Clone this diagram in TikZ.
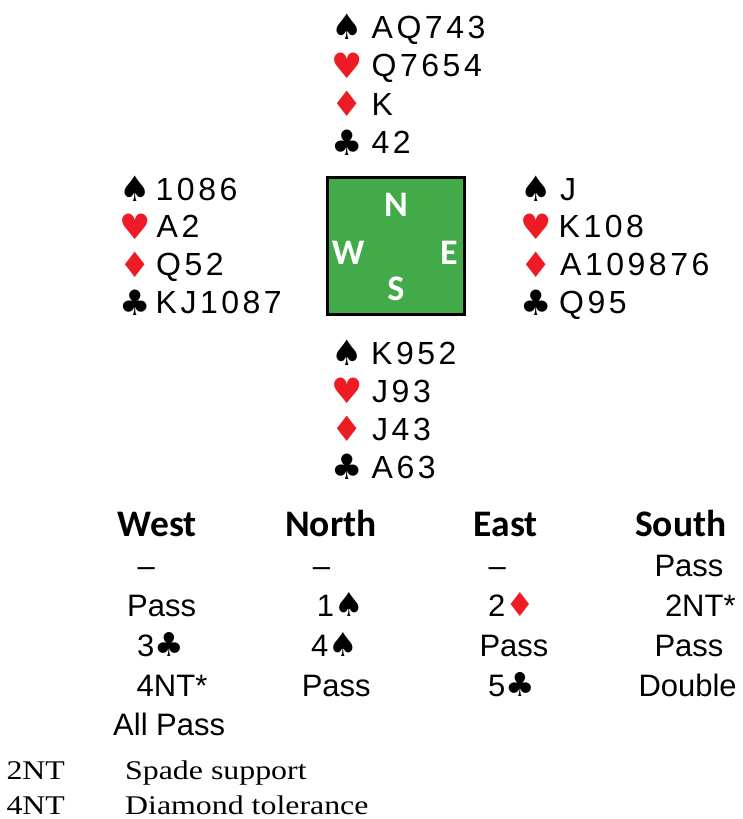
\documentclass[tikz,border=0pt]{standalone}
\usepackage{fontspec}
\setmainfont{Liberation Sans}
\newfontfamily\handfont[LetterSpace=11]{Liberation Sans}
\newfontfamily\bidfont{Liberation Sans}
\newfontfamily\symfont{DejaVu Sans}
\newfontfamily\headfont{Carlito}
\newfontfamily\notefont[FakeStretch=1.18]{Liberation Serif}
\definecolor{boxgreen}{RGB}{67,170,73}
\definecolor{suitred}{RGB}{237,28,36}
\newcommand\BidSpade{{\symfont\fontsize{33}{36}\selectfont ♠}}
\newcommand\BidClub{{\symfont\fontsize{33}{36}\selectfont ♣}}
\newcommand\BidDiam{{\symfont\fontsize{33}{36}\selectfont\color{suitred}♦}}
\tikzset{
  hand/.style={anchor=base west, inner sep=0pt, font=\handfont\fontsize{32}{36}\selectfont},
  suit/.style={anchor=base, inner sep=0pt, font=\symfont\fontsize{35}{40}\selectfont},
  redsuit/.style={suit, text=suitred},
  bid/.style={anchor=base west, inner sep=0pt, font=\bidfont\fontsize{31}{36}\selectfont},
  head/.style={anchor=base west, inner sep=0pt, font=\headfont\bfseries\fontsize{37.5}{40}\selectfont},
  compass/.style={anchor=base, inner sep=0pt, text=white, font=\headfont\bfseries\fontsize{36}{40}\selectfont},
  note/.style={anchor=base west, inner sep=0pt, font=\notefont\fontsize{27}{30}\selectfont},
  board/.style={draw=black, line width=3.3pt, fill=boxgreen, minimum size=136.7pt, inner sep=0pt}
}
\begin{document}
\begin{tikzpicture}[x=1pt,y=-1pt]
\useasboundingbox (0,0) rectangle (743,819);
% board
\node[board] (board) at (396,246) {};
\node[compass] (cN) at (396,216.7) {N};
\node[compass] (cW) at (348.3,264.3) {W};
\node[compass] (cE) at (449,264.3) {E};
\node[compass] (cS) at (396,300) {S};
% North
\node[suit] (nS) at (347.5,39.5) {♠};
\node[redsuit] (nH) at (347.5,78) {♥};
\node[redsuit] (nD) at (347.5,116.5) {♦};
\node[suit] (nC) at (347.5,155) {♣};
\node[hand] (nSt) at (371.5,38.3) {AQ743};
\node[hand] (nHt) at (371.5,76.8) {Q7654};
\node[hand] (nDt) at (371.5,115.3) {K};
\node[hand] (nCt) at (371.5,153.8) {42};
% West
\node[suit] (wS) at (135.5,201.2) {♠};
\node[redsuit] (wH) at (135.5,239) {♥};
\node[redsuit] (wD) at (135.5,277) {♦};
\node[suit] (wC) at (135.5,315) {♣};
\node[hand] (wSt) at (155.5,200) {1086};
\node[hand] (wHt) at (156.5,237.8) {A2};
\node[hand] (wDt) at (156,275.8) {Q52};
\node[hand] (wCt) at (155.5,313.8) {KJ1087};
% East
\node[suit] (eS) at (536.5,201.2) {♠};
\node[redsuit] (eH) at (536.5,239) {♥};
\node[redsuit] (eD) at (536.5,277) {♦};
\node[suit] (eC) at (536.5,315) {♣};
\node[hand] (eSt) at (560,200) {J};
\node[hand] (eHt) at (558.5,237.8) {K108};
\node[hand] (eDt) at (560,275.8) {A109876};
\node[hand] (eCt) at (559,313.8) {Q95};
% South
\node[suit] (sS) at (347.5,365.7) {♠};
\node[redsuit] (sH) at (347.5,403.7) {♥};
\node[redsuit] (sD) at (347.5,441.7) {♦};
\node[suit] (sC) at (347.5,479.2) {♣};
\node[hand] (sSt) at (371,364.5) {K952};
\node[hand] (sHt) at (372,402.5) {J93};
\node[hand] (sDt) at (372,440.5) {J43};
\node[hand] (sCt) at (371.5,478) {A63};
% bidding headers
\node[head] (hW) at (117.5,536) {West};
\node[head] (hN) at (285,536) {North};
\node[head] (hE) at (473.5,536) {East};
\node[head] (hS) at (635,536) {South};
% bids
\node[bid] (b11) at (137.3,576) {–};
\node[bid] (b12) at (312.7,576) {–};
\node[bid] (b13) at (488.3,576) {–};
\node[bid] (b14) at (654.3,576) {Pass};
\node[bid] (b21) at (127,616) {Pass};
\node[bid] (b22) at (316.6,616) {1\BidSpade};
\node[bid] (b23) at (488,616) {2\BidDiam};
\node[bid] (b24) at (664.8,616) {2NT*};
\node[bid] (b31) at (137,656) {3\BidClub};
\node[bid] (b32) at (311,656) {4\BidSpade};
\node[bid] (b33) at (479.3,656) {Pass};
\node[bid] (b34) at (654.3,656) {Pass};
\node[bid] (b41) at (136.5,696) {4NT*};
\node[bid] (b42) at (301.6,696) {Pass};
\node[bid] (b43) at (488,696) {5\BidClub};
\node[bid] (b44) at (638.3,696) {Double};
\node[bid] (b51) at (113,735) {All Pass};
% notes
\node[note] (n1a) at (6.3,779.3) {2NT};
\node[note] (n1b) at (125,779.3) {Spade support};
\node[note] (n2a) at (6.3,814) {4NT};
\node[note] (n2b) at (125,814) {Diamond tolerance};
\end{tikzpicture}
\end{document}
